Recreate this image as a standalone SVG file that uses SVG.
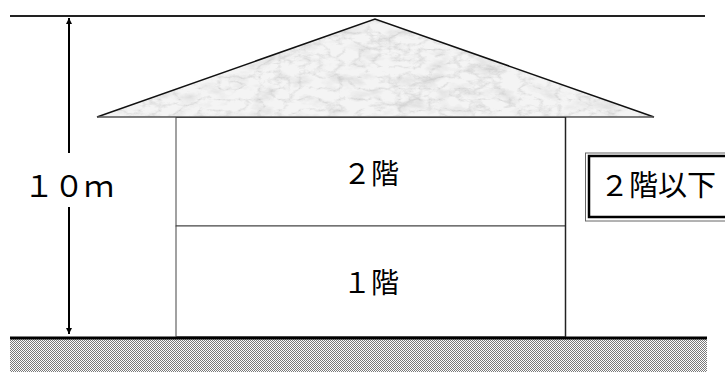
<svg xmlns="http://www.w3.org/2000/svg" width="725" height="372" viewBox="0 0 725 372">
  <style>
    .lbl { font-family: "Noto Sans CJK JP", "Noto Sans", sans-serif; fill: #000; }
    .wall { fill: #fff; stroke: #444; stroke-width: 1; }
  </style>
  <defs>
    <!-- marble texture for the roof: soft clouds plus thin veins -->
    <filter id="marble" x="0" y="0" width="100%" height="100%">
      <feTurbulence type="fractalNoise" baseFrequency="0.04 0.08" numOctaves="5" seed="7" result="cloud"/>
      <feColorMatrix in="cloud" type="matrix" values="0 0 0 0 0  0 0 0 0 0  0 0 0 0 0  -1.8 0 0 0 0.95" result="ca"/>
      <feTurbulence type="turbulence" baseFrequency="0.05 0.09" numOctaves="5" seed="11" result="n"/>
      <feColorMatrix in="n" type="matrix" values="0 0 0 0 0  0 0 0 0 0  0 0 0 0 0  -2.2 0 0 0 0.7" result="veins"/>
      <feFlood flood-color="#f4f4f4" result="base"/>
      <feFlood flood-color="#b4b4b4" result="cc"/>
      <feComposite in="cc" in2="ca" operator="in" result="c2"/>
      <feFlood flood-color="#9c9c9c" result="vc"/>
      <feComposite in="vc" in2="veins" operator="in" result="v2"/>
      <feComponentTransfer in="v2" result="v3">
        <feFuncA type="linear" slope="0.5" intercept="0"/>
      </feComponentTransfer>
      <feComponentTransfer in="c2" result="c3">
        <feFuncA type="linear" slope="0.55" intercept="0"/>
      </feComponentTransfer>
      <feMerge result="m"><feMergeNode in="base"/><feMergeNode in="c3"/><feMergeNode in="v3"/></feMerge>
      <feComposite in="m" in2="SourceGraphic" operator="in"/>
    </filter>
    <!-- dithered ground -->
    <pattern id="ground" width="2" height="2" patternUnits="userSpaceOnUse">
      <rect width="2" height="2" fill="#fff"/>
      <rect width="1" height="1" fill="#7a7a7a"/>
      <rect x="1" y="1" width="1" height="1" fill="#7a7a7a"/>
    </pattern>
    <marker id="ah" viewBox="0 0 10 10" refX="10" refY="5" markerWidth="6" markerHeight="6" orient="auto-start-reverse" markerUnits="userSpaceOnUse">
      <path d="M0,0 L10,5 L0,10 z" fill="#000"/>
    </marker>
  </defs>

  <!-- ground -->
  <g id="ground-band">
    <rect x="10" y="339" width="697" height="33" fill="url(#ground)"/>
    <line x1="10" y1="338" x2="707" y2="338" stroke="#000" stroke-width="3"/>
  </g>

  <!-- height limit line -->
  <g id="limit-line">
    <line x1="10" y1="16" x2="705" y2="16" stroke="#222" stroke-width="2"/>
  </g>

  <!-- roof -->
  <g id="roof">
    <polygon points="97,117 375,19 654,117" fill="#eee" filter="url(#marble)"/>
    <polyline points="97,117 375,19 654,117" fill="none" stroke="#111" stroke-width="1.5"/>
    <line x1="97" y1="117" x2="654" y2="117" stroke="#555" stroke-width="1.5"/>
  </g>

  <!-- floors -->
  <g id="floor2">
    <rect class="wall" x="176" y="117.5" width="389.5" height="108.5"/>
    <text class="lbl" x="371" y="184" font-size="28" text-anchor="middle">２階</text>
  </g>
  <g id="floor1">
    <rect class="wall" x="176" y="226" width="389.5" height="110.5"/>
    <text class="lbl" x="371" y="293" font-size="28" text-anchor="middle">１階</text>
  </g>
  <line x1="565.5" y1="117" x2="565.5" y2="337" stroke="#222" stroke-width="1.5"/>

  <!-- dimension -->
  <g id="connectors">
    <line x1="69" y1="153" x2="69" y2="18" stroke="#000" stroke-width="2" marker-end="url(#ah)"/>
    <line x1="69" y1="207" x2="69" y2="334" stroke="#000" stroke-width="2" marker-end="url(#ah)"/>
  </g>
  <g id="height-label">
    <text class="lbl" x="24" y="197" font-size="30">１０ｍ</text>
  </g>

  <!-- limit box -->
  <g id="limit-box">
    <rect x="585.5" y="153" width="150" height="68" fill="#fff" stroke="#666" stroke-width="1"/>
    <rect x="589" y="156" width="150" height="61" fill="#fff" stroke="#000" stroke-width="2.5"/>
    <text class="lbl" x="600" y="196" font-size="29">２階以下</text>
  </g>
</svg>
